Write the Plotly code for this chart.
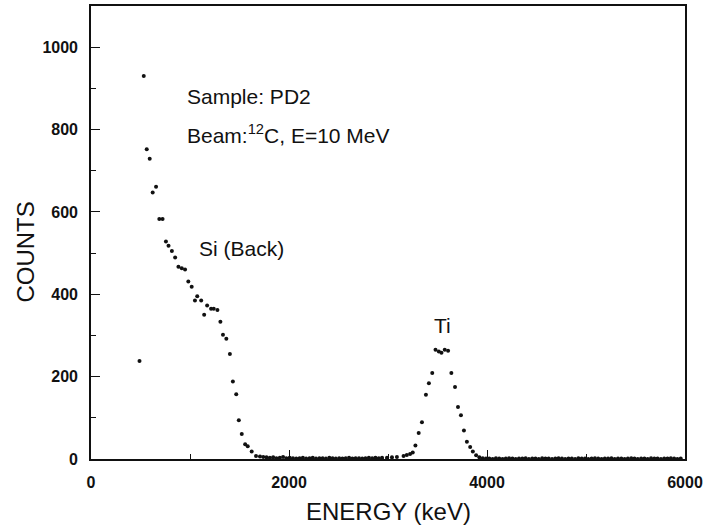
import plotly.graph_objects as go

# --- Data (energy in keV, counts) ---
si_energy = [490, 533, 563, 593, 623, 657, 690, 723, 757, 783, 817, 850, 883, 917, 950,
             983, 1017, 1050, 1073, 1113, 1143, 1173, 1213, 1240, 1277, 1307, 1333, 1367,
             1403, 1433, 1467, 1493, 1523, 1557, 1583, 1623, 1667, 1707]
si_counts = [238, 930, 752, 729, 647, 661, 583, 583, 528, 518, 505, 489, 467, 463, 460,
             431, 418, 385, 395, 385, 350, 373, 365, 365, 362, 333, 302, 292,
             255, 188, 157, 94, 61, 36, 31, 18, 7, 6]

base1_energy = [1740, 1773, 1807, 1840, 1873, 1907, 1940, 1973, 2007, 2040, 2073, 2107, 2140,
                2173, 2207, 2240, 2273, 2307, 2340, 2373, 2407, 2440, 2473, 2507, 2540, 2573,
                2607, 2640, 2673, 2707, 2740, 2773, 2807, 2840, 2873, 2907, 2940]
base1_counts = [5, 4, 3, 4, 2, 3, 5, 2, 3, 2, 1, 2, 3, 1, 2, 3, 1, 2, 2, 1, 3, 2, 1, 2, 1, 2,
                3, 1, 2, 2, 1, 2, 3, 2, 3, 2, 3]

ti_energy = [2990, 3040, 3090, 3157, 3190, 3223, 3250, 3277, 3310, 3343, 3383, 3413, 3447,
             3480, 3513, 3540, 3573, 3607, 3640, 3677, 3707, 3737, 3767, 3797, 3830, 3857,
             3890, 3923]
ti_counts = [3, 4, 5, 7, 10, 12, 16, 33, 63, 89, 156, 184, 209,
             265, 261, 258, 265, 263, 209, 175, 126, 106, 69, 42, 29, 18,
             9, 4]

base2_energy = [3957, 3990, 4023, 4057, 4090, 4123, 4157, 4190, 4223, 4257, 4290, 4323, 4357,
                4390, 4423, 4457, 4490, 4523, 4557, 4590, 4623, 4657, 4690, 4723, 4757, 4790,
                4823, 4857, 4890, 4923, 4957, 4990, 5023, 5057, 5090, 5123, 5157, 5190, 5223,
                5257, 5290, 5323, 5357, 5390, 5423, 5457, 5490, 5523, 5557, 5590, 5623, 5657,
                5690, 5723, 5757, 5790, 5823, 5857, 5890, 5923, 5957]
base2_counts = [2, 1, 1, 0, 2, 1, 0, 1, 2, 1, 0, 1, 1, 2, 0, 1, 1, 0, 2, 1, 1, 0, 1, 2, 1, 0,
                1, 1, 0, 2, 1, 1, 0, 1, 2, 1, 0, 1, 1, 2, 0, 1, 1, 0, 1, 2, 1, 0, 1, 1, 0, 2,
                1, 1, 0, 1, 1, 2, 1, 0, 1]

x_ticks = [0, 2000, 4000, 6000]
y_ticks = [0, 200, 400, 600, 800, 1000]

energy = si_energy + base1_energy + ti_energy + base2_energy
counts = si_counts + base1_counts + ti_counts + base2_counts

FONT = "Liberation Sans, Arial, sans-serif"
INK = "#111111"

fig = go.Figure()
fig.add_trace(go.Scatter(
    x=energy, y=counts, mode="markers",
    marker=dict(size=4, color=INK, line=dict(width=0)),
    showlegend=False, hoverinfo="x+y",
))

axis_common = dict(
    showline=True, linecolor=INK, linewidth=1.6, mirror=True,
    ticks="inside", tickcolor=INK, tickwidth=1.4, ticklen=9,
    showgrid=False, zeroline=False,
    ticklabeloverflow="allow",
    tickfont=dict(family=FONT, size=16, color=INK, weight="bold"),
)

fig.update_xaxes(
    range=[0, 6000], tickmode="array", tickvals=x_ticks,
    ticktext=[str(v) for v in x_ticks],
    minor=dict(ticks="inside", dtick=1000, ticklen=5, tickcolor=INK, tickwidth=1.2),
    ticklabelstandoff=8,
    **axis_common,
)
fig.update_yaxes(
    range=[0, 1100], tickmode="array", tickvals=y_ticks,
    ticktext=[str(v) for v in y_ticks],
    minor=dict(ticks="inside", dtick=100, ticklen=5, tickcolor=INK, tickwidth=1.2),
    ticklabelstandoff=8,
    **axis_common,
)

L, R, T, B = 91, 16, 4, 67
W, H = 707, 526
pw, ph = W - L - R, H - T - B


def px2paper(px, py):
    return (px - L) / pw, (H - B - py) / ph


annots = []
ax_x, ax_y = px2paper(25, 251)
annots.append(dict(text="COUNTS", x=ax_x, y=ax_y, xref="paper", yref="paper",
                   textangle=-90, showarrow=False, xanchor="center", yanchor="middle",
                   font=dict(family=FONT, size=24, color=INK)))
ex, ey = px2paper(392, 512)
annots.append(dict(text="ENERGY (keV)", x=ex, y=ey, xref="paper", yref="paper",
                   showarrow=False, xanchor="center", yanchor="middle",
                   font=dict(family=FONT, size=24, color=INK)))

labels = [
    ("Sample: PD2", 950, 880, "left"),
    ("Beam:<sup>12</sup>C, E=10 MeV", 950, 790, "left"),
    ("Si (Back)", 1070, 510, "left"),
    ("Ti", 3550, 324, "center"),
]
for txt, x, y, anc in labels:
    annots.append(dict(text=txt, x=x, y=y, xref="x", yref="y", showarrow=False,
                       xanchor=anc, yanchor="middle",
                       font=dict(family=FONT, size=21, color=INK)))

fig.update_layout(
    width=W, height=H,
    margin=dict(l=L, r=R, t=T, b=B, pad=0),
    paper_bgcolor="white", plot_bgcolor="white",
    annotations=annots,
    font=dict(family=FONT, color=INK),
)

fig.write_html("out.html")
